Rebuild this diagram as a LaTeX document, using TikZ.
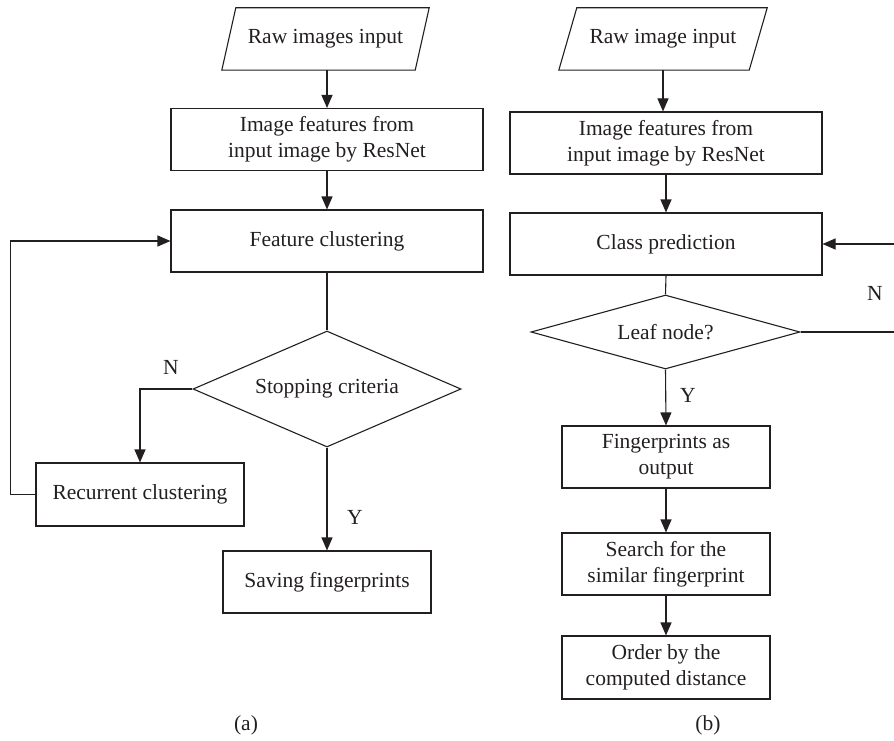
\documentclass[tikz,border=0pt]{standalone}
\usepackage{fontspec}
\setmainfont{Liberation Serif}
\usetikzlibrary{arrows.meta,shapes.geometric}
\definecolor{ink}{HTML}{231F20}
\begin{document}
\begin{tikzpicture}[x=1pt,y=-1pt,
  every node/.style={font=\fontsize{21.5}{26}\selectfont, text=ink},
  box/.style={draw=ink, line width=1.1pt, rectangle, inner sep=0pt, align=center},
  wide/.style={box, minimum width=312pt, minimum height=62pt},
  narrow/.style={box, minimum width=208pt, minimum height=62pt},
  para/.style={rectangle, inner sep=0pt, minimum height=62pt},
  dia/.style={draw=ink, line width=1.1pt, diamond, inner sep=0pt},
  lbl/.style={inner sep=0pt},
  conn/.style={draw=ink, line width=1.1pt},
  arr/.style={conn, -{Triangle[length=13pt,width=11pt]}}
]
\useasboundingbox (0,0) rectangle (894,741);

% ---------- (a) ----------
\node[para, minimum width=193pt] (pa) at (325.5,39) {Raw images input};
\draw[conn] ([xshift=-7pt]pa.south west) -- ([xshift=7pt]pa.north west) -- ([xshift=7pt]pa.north east) -- ([xshift=-7pt]pa.south east) -- cycle;
\node[wide] (a1) at (327,139.5) {Image features from\\input image by ResNet};
\node[wide] (a2) at (327,241) {Feature clustering};
\node[dia, minimum width=268pt, minimum height=116pt, aspect=2.31] (ad) at (327,389) {Stopping criteria};
\node[narrow, minimum height=63pt] (ar) at (140,494.5) {Recurrent clustering};
\node[narrow] (as) at (327,582) {Saving fingerprints};
\node[lbl] (aN) at (171,367) {N};
\node[lbl] (aY) at (355,517) {Y};
\node[lbl] (acap) at (246,725) {(a)};

\draw[arr] (pa.south -| a1.north) -- (a1.north);
\draw[arr] (a1.south) -- (a2.north);
\draw[conn] (a2.south) -- (ad.north);
\draw[arr] (ad.west) -| (ar.north);
\draw[arr] (ar.west) -- ++(-25,0) |- (a2.west);
\draw[arr] (ad.south) -- (as.north);

% ---------- (b) ----------
\node[para, minimum width=190pt] (pb) at (663,39) {Raw image input};
\draw[conn] ([xshift=-9pt]pb.south west) -- ([xshift=9pt]pb.north west) -- ([xshift=9pt]pb.north east) -- ([xshift=-9pt]pb.south east) -- cycle;
\node[wide] (b1) at (666,143) {Image features from\\input image by ResNet};
\node[wide] (b2) at (666,244) {Class prediction};
\node[dia, minimum width=269pt, minimum height=74pt, aspect=3.6] (bd) at (665.5,332) {Leaf node?};
\node[narrow] (b3) at (666,457) {Fingerprints as\\output};
\node[narrow] (b4) at (666,564) {Search for the\\similar fingerprint};
\node[narrow, minimum height=63pt] (b5) at (666,667.5) {Order by the\\computed distance};
\node[lbl] (bN) at (875,293) {N};
\node[lbl] (bY) at (688,395) {Y};
\node[lbl] (bcap) at (708,725) {(b)};
\coordinate (br1) at (894,332);
\coordinate (br2) at (894,244);

\draw[arr] (pb.south) -- (pb.south |- b1.north);
\draw[arr] (b1.south) -- (b2.north);
\draw[conn] (b2.south) -- (bd.north);
\draw[conn] (bd.east) -- (br1);
\draw[arr] (br2) -- (b2.east);
\draw[arr] (bd.south) -- (b3.north);
\draw[arr] (b3.south) -- (b4.north);
\draw[arr] (b4.south) -- (b5.north);
\end{tikzpicture}
\end{document}
